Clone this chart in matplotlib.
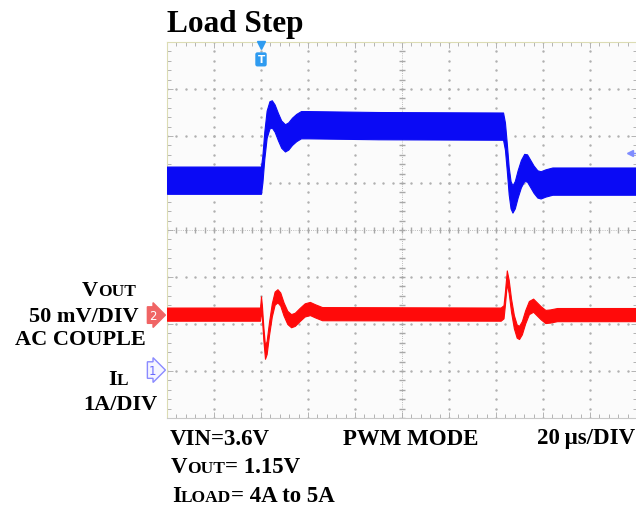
"""Recria a captura de osciloscópio "Load Step" (VOUT e IL)."""

import matplotlib
import numpy as np

matplotlib.use("Agg")

import matplotlib.pyplot as plt  # noqa: E402

W, H = 636, 506
SERIF = ["Liberation Serif", "DejaVu Serif"]

# Tempo em divisões (0..10), tensão em divisões (centro da tela = 0)
VOUT_TIME = [0.0, 2.00, 2.03, 2.07, 2.12, 2.18, 2.23, 2.29, 2.36, 2.43, 2.51,
             2.58, 2.66, 2.75, 2.85, 3.0, 4.5, 7.15, 7.19, 7.23, 7.27, 7.31,
             7.35, 7.40, 7.46, 7.53, 7.60, 7.66, 7.73, 7.80, 7.88, 7.95, 8.05,
             8.2, 10.0]
VOUT_LEVEL = [1.06, 1.06, 1.3, 1.8, 2.25, 2.45, 2.47, 2.38, 2.2, 2.04, 1.96,
              2.0, 2.1, 2.18, 2.24, 2.24, 2.22, 2.21, 2.0, 1.55, 1.05, 0.75,
              0.66, 0.75, 0.98, 1.2, 1.33, 1.32, 1.2, 1.08, 0.98, 0.96, 1.0,
              1.04, 1.04]
VOUT_NOISE = 0.29  # meia largura da faixa de ruído (div)

AC_TIME = [0.0, 1.98, 2.00, 2.02, 2.05, 2.085, 2.12, 2.17, 2.23, 2.29, 2.35,
           2.41, 2.48, 2.56, 2.64, 2.72, 2.82, 2.93, 3.04, 3.15, 3.3, 7.10,
           7.16, 7.19, 7.23, 7.27, 7.32, 7.38, 7.44, 7.49, 7.55, 7.62, 7.70,
           7.79, 7.87, 7.95, 8.05, 8.15, 8.3, 10.0]
AC_LEVEL = [-1.79, -1.79, -1.55, -1.75, -2.2, -2.6, -2.5, -2.1, -1.7, -1.45,
            -1.4, -1.47, -1.68, -1.86, -1.93, -1.9, -1.8, -1.7, -1.67, -1.72,
            -1.78, -1.79, -1.74, -1.45, -1.0, -1.2, -1.6, -1.95, -2.15, -2.18,
            -2.08, -1.85, -1.65, -1.6, -1.68, -1.76, -1.84, -1.83, -1.8, -1.80]
AC_NOISE = 0.14

TRIGGER_T = 2.0
CH1_OFFSET = -2.98
CH2_OFFSET = -1.81
TRIG_LEVEL = 1.64

BOTTOM_LINES = [
    (170, 445, [("VIN=3.6V", 16.5)]),
    (343, 445, [("PWM MODE", 16.5)]),
    (537, 444, [("20", 16.5), ("\u2009\u03bcs/DIV", 16.5)]),
    (171, 473, [("V", 16.5), ("OUT", 12.5), ("= 1.15V", 16.5)]),
    (172, 502, [("I", 16.5), ("LOAD", 12.5), ("= 4A to 5A", 16.5)]),
]
LEFT_LINES = [
    (82, 296, [("V", 16), ("OUT", 12.5)]),
    (29, 322, [("50 mV/DIV", 16)]),
    (15, 345, [("AC COUPLE", 16)]),
    (108, 385, [("I", 16), ("L", 12.5)]),
    (83, 410, [("1A/DIV", 16)]),
]


def px(x, y):
    return x / W, 1 - y / H


def put_pieces(fig, renderer, x0, y0, pieces):
    """Escreve textos lado a lado (efeito versalete)."""
    x = x0
    for text, size in pieces:
        fx, fy = px(x, y0)
        t = fig.text(fx, fy, text, fontsize=size, fontweight="bold",
                     family=SERIF, va="baseline", ha="left")
        x = t.get_window_extent(renderer).x1


def draw_graticule(ax):
    dot = dict(color="#b0b0b0", marker=".", markersize=1.5, linestyle="none")
    sub_y = np.arange(-4, 4.001, 0.2)
    sub_x = np.arange(0, 10.001, 0.2)
    for k in range(1, 10):
        if k != 5:
            ax.plot(np.full_like(sub_y, k), sub_y, **dot)
    for k in range(-3, 4):
        if k != 0:
            ax.plot(sub_x, np.full_like(sub_x, k), **dot)
    ax.plot(sub_x, np.zeros_like(sub_x), color="#a8a8a8", marker="|",
            markersize=5, linestyle=":", linewidth=0.6)
    ax.plot(np.full_like(sub_y, 5), sub_y, color="#a8a8a8", marker="_",
            markersize=5, linestyle=":", linewidth=0.6)

    ax.set_xticks(range(0, 11))
    ax.set_xticks(sub_x, minor=True)
    ax.set_yticks(range(-4, 5))
    ax.set_yticks(sub_y, minor=True)
    ax.tick_params(which="both", direction="in", top=True, right=True,
                   labelbottom=False, labelleft=False, color="#a8a8a8",
                   width=0.6)
    ax.tick_params(which="major", length=4)
    ax.tick_params(which="minor", length=3)
    for side in ("bottom", "right"):
        ax.spines[side].set_color("#c8c8c8")
    for side in ("top", "left"):
        ax.spines[side].set_color("#dcdcb4")


def main():
    fig = plt.figure(figsize=(W / 100, H / 100), dpi=100, facecolor="white")
    left, top, right, bottom = 167, 43, 637, 419
    ax = fig.add_axes([left / W, 1 - bottom / H, (right - left) / W,
                       (bottom - top) / H])
    ax.set_facecolor("#fbfbfb")
    ax.set_xlim(0, 10)
    ax.set_ylim(-4, 4)
    draw_graticule(ax)

    vt = np.asarray(VOUT_TIME)
    vl = np.asarray(VOUT_LEVEL)
    ax.fill_between(vt, vl - VOUT_NOISE, vl + VOUT_NOISE, color="#0a0af5",
                    linewidth=0.8, edgecolor="#0a0af5", zorder=3)
    at = np.asarray(AC_TIME)
    al = np.asarray(AC_LEVEL)
    ax.fill_between(at, al - AC_NOISE, al + AC_NOISE, color="#ff0a0a",
                    linewidth=0.8, edgecolor="#ff0a0a", zorder=3)

    # marcadores do osciloscópio
    ax.plot([TRIGGER_T], [3.93], marker="v", color="#2f9bf0", markersize=6,
            clip_on=False, zorder=4)
    ax.text(TRIGGER_T, 3.63, "T", color="white", fontsize=7.5,
            fontweight="bold", ha="center", va="center", zorder=4,
            bbox=dict(boxstyle="round,pad=0.2", fc="#2f9bf0", ec="none"))
    ax.plot([9.86], [TRIG_LEVEL], marker="<", color="#7f8cff", markersize=5,
            clip_on=False, zorder=4)
    ax.plot([9.86, 9.98], [TRIG_LEVEL, TRIG_LEVEL], color="#7f8cff",
            linewidth=1, zorder=4)
    ax.text(-0.30, CH2_OFFSET, "2", color="white", fontsize=8.5,
            ha="center", va="center", clip_on=False,
            bbox=dict(boxstyle="rarrow,pad=0.15", fc="#f06464", ec="#f06464"))
    ax.text(-0.30, CH1_OFFSET, "1", color="#6a6aff", fontsize=8.5,
            ha="center", va="center", clip_on=False,
            bbox=dict(boxstyle="rarrow,pad=0.15", fc="#f6f6ff", ec="#8a8aff"))

    renderer = fig.canvas.get_renderer()
    fx, fy = px(167, 32)
    fig.text(fx, fy, "Load Step", fontsize=22.5, fontweight="bold",
             family=SERIF, va="baseline", ha="left")
    for x0, y0, pieces in LEFT_LINES + BOTTOM_LINES:
        put_pieces(fig, renderer, x0, y0, pieces)

    fig.savefig("out.png", dpi=100, facecolor="white")


if __name__ == "__main__":
    main()
